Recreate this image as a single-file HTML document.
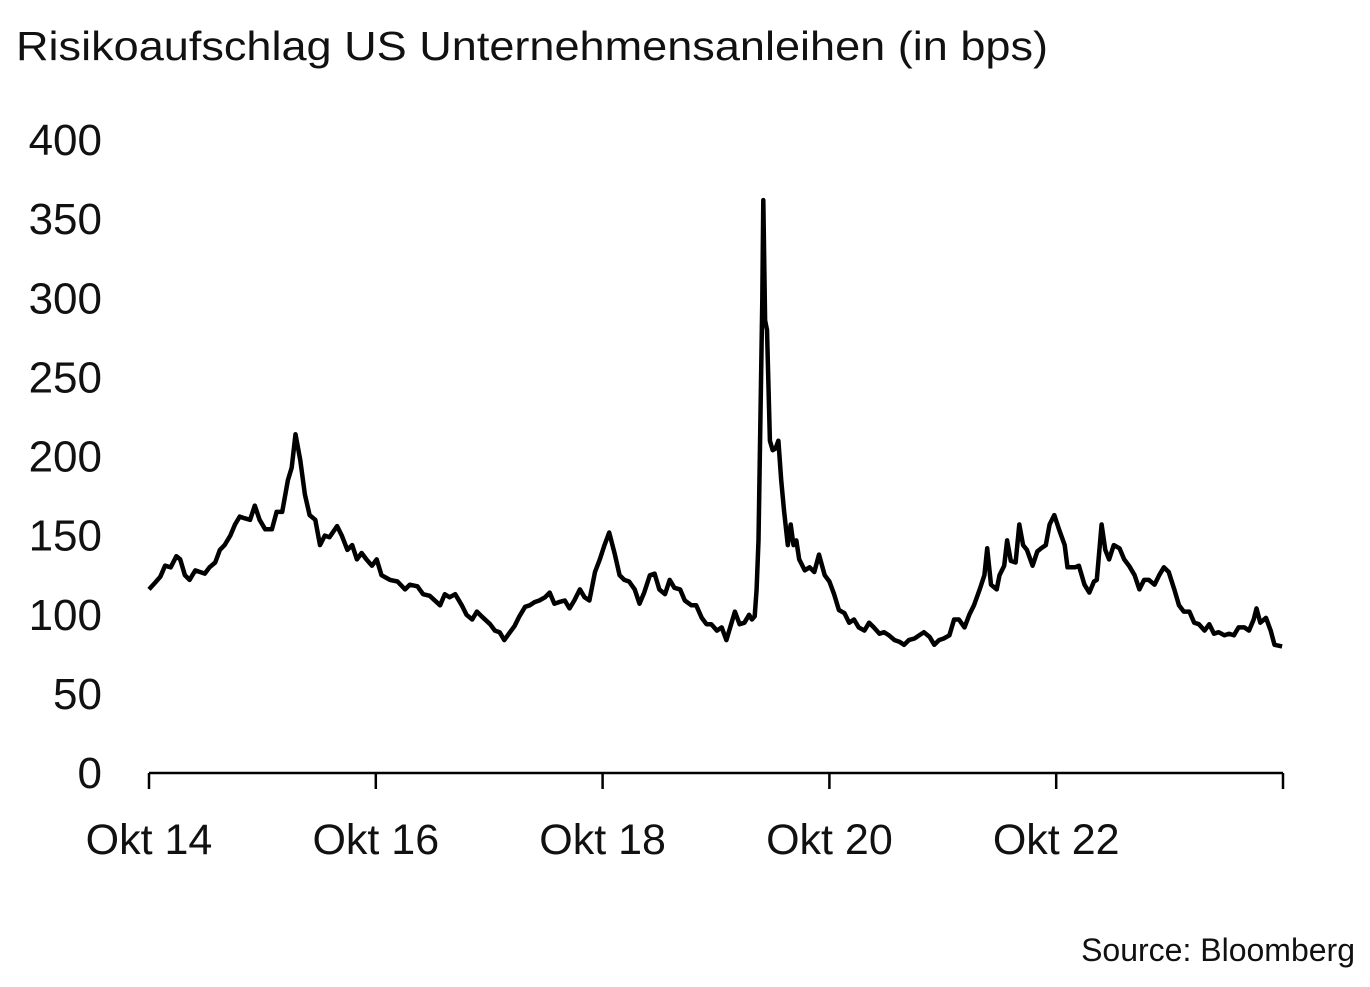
<!DOCTYPE html>
<html><head><meta charset="utf-8"><style>
html,body{margin:0;padding:0;background:#fff;}
body{width:1370px;height:982px;overflow:hidden;font-family:"Liberation Sans",sans-serif;}
</style></head><body>
<svg width="1370" height="982" viewBox="0 0 1370 982" font-family="Liberation Sans, sans-serif">
<text x="16" y="60" font-size="41" textLength="1032" lengthAdjust="spacingAndGlyphs" fill="#111">Risikoaufschlag US Unternehmensanleihen (in bps)</text>
<g id="yaxis"></g>
<g id="xaxis"></g>
<path id="series" fill="none" stroke="#000" stroke-width="4.5" stroke-linejoin="round"/>
<text x="1355" y="961" font-size="32" text-anchor="end" fill="#111">Source: Bloomberg</text>
</svg>
<script>
// months since Oct 2014
const months = [0,0.6,1.2,1.7,2.3,2.9,3.3,3.8,4.3,4.9,5.4,5.9,6.4,7.0,7.5,8.0,8.6,9.1,9.6,10.1,10.7,11.2,11.7,12.3,13.0,13.5,14.1,14.7,15.1,15.5,16.0,16.5,17.0,17.6,18.1,18.6,19.1,19.9,20.4,21.0,21.5,22.0,22.5,23.0,23.6,24.1,24.6,25.5,26.3,27.1,27.6,28.4,29.0,29.7,30.8,31.3,31.8,32.4,33.1,33.6,34.2,34.7,35.2,36.1,36.6,37.1,37.6,38.2,38.7,39.2,39.8,40.3,40.8,41.3,41.9,42.4,42.9,43.4,44.0,44.5,45.0,45.6,46.1,46.6,47.2,47.7,48.2,48.7,49.3,49.8,50.3,50.8,51.4,51.9,52.4,53.0,53.5,54.0,54.6,55.1,55.6,56.2,56.7,57.4,57.9,58.5,59.0,59.5,60.1,60.6,61.1,62.0,62.5,63.0,63.5,63.8,64.1,64.3,64.5,64.7,64.9,65.0,65.2,65.4,65.7,66.0,66.3,66.6,66.9,67.2,67.6,67.9,68.2,68.5,68.8,69.4,69.9,70.4,70.9,71.5,72.0,72.5,73.0,73.6,74.1,74.6,75.1,75.7,76.2,76.7,77.3,77.8,78.3,78.9,79.4,79.9,80.4,81.0,81.5,82.0,82.6,83.1,83.6,84.1,84.7,85.2,85.7,86.3,86.8,87.3,87.9,88.4,88.7,89.1,89.7,90.0,90.5,90.8,91.2,91.7,92.1,92.5,92.9,93.5,94.0,94.4,94.9,95.3,95.8,96.3,96.9,97.2,98.0,98.4,99.0,99.5,100.0,100.3,100.8,101.2,101.6,102.1,102.7,103.2,103.7,104.3,104.8,105.3,105.8,106.4,106.9,107.4,107.9,108.5,109.0,109.5,110.1,110.6,111.1,111.7,112.2,112.7,113.2,113.8,114.3,114.8,115.3,115.9,116.4,116.9,117.2,117.6,118.2,118.7,119.1,119.9];
const spreads = [116,120,124,131,130,137,135,125,122,128,127,126,130,133,141,144,150,157,162,161,160,169,160,154,154,165,165,185,193,214,198,176,163,160,144,150,149,156,150,141,144,135,139,135,131,135,125,122,121,116,119,118,113,112,106,113,111,113,106,100,97,102,99,94,90,89,84,89,93,99,105,106,108,109,111,114,107,108,109,104,109,116,111,109,127,135,144,152,138,125,122,121,116,107,114,125,126,116,113,122,117,116,109,106,106,98,94,94,90,92,84,102,94,95,100,97,99,116,147,223,299,362,286,280,210,204,205,210,185,166,144,157,144,147,135,128,130,127,138,125,121,113,103,101,95,97,92,90,95,92,88,89,87,84,83,81,84,85,87,89,86,81,84,85,87,97,97,92,100,106,116,125,142,119,116,125,131,147,134,133,157,144,141,131,140,142,144,157,163,154,144,130,130,131,119,114,121,122,157,141,135,144,142,135,131,125,116,122,122,119,125,130,127,116,106,102,102,95,94,90,94,88,89,87,88,87,92,92,90,97,104,95,98,90,81,80];
const yTicks = [0,50,100,150,200,250,300,350,400];
const xTickMonths = [0,24,48,72,96];
const xTickLabels = ["Okt 14","Okt 16","Okt 18","Okt 20","Okt 22"];
const NS="http://www.w3.org/2000/svg";
const X0=149, X1=1283, Y0=773, Y400=140;
function xs(m){return X0+m*(X1-X0)/120;}
function ys(v){return Y0-v*(Y0-Y400)/400;}
const ya=document.getElementById('yaxis');
yTicks.forEach(v=>{
  const t=document.createElementNS(NS,'text');
  t.setAttribute('x',102);t.setAttribute('y',ys(v)+15);
  t.setAttribute('text-anchor','end');t.setAttribute('font-size','44');t.setAttribute('fill','#111');
  
  
  t.textContent=v;ya.appendChild(t);
});
const xa=document.getElementById('xaxis');
const bl=document.createElementNS(NS,'line');
bl.setAttribute('x1',X0);bl.setAttribute('x2',X1);bl.setAttribute('y1',Y0);bl.setAttribute('y2',Y0);
bl.setAttribute('stroke','#000');bl.setAttribute('stroke-width','2.5');


xa.appendChild(bl);
xTickMonths.concat([120]).forEach((m,i)=>{
  const l=document.createElementNS(NS,'line');
  l.setAttribute('x1',xs(m));l.setAttribute('x2',xs(m));l.setAttribute('y1',Y0);l.setAttribute('y2',Y0+16);
  l.setAttribute('stroke','#000');l.setAttribute('stroke-width','2.5');
  
  
  xa.appendChild(l);
  if(i<xTickLabels.length){
    const t=document.createElementNS(NS,'text');
    t.setAttribute('x',xs(m));t.setAttribute('y',854);t.setAttribute('text-anchor','middle');
    t.setAttribute('font-size','43');t.setAttribute('fill','#111');
    
    
    t.textContent=xTickLabels[i];xa.appendChild(t);
  }
});
document.getElementById('series').setAttribute('d',months.map((m,i)=>(i?'L':'M')+xs(m).toFixed(1)+' '+ys(spreads[i]).toFixed(1)).join(' '));
</script>
</body></html>
